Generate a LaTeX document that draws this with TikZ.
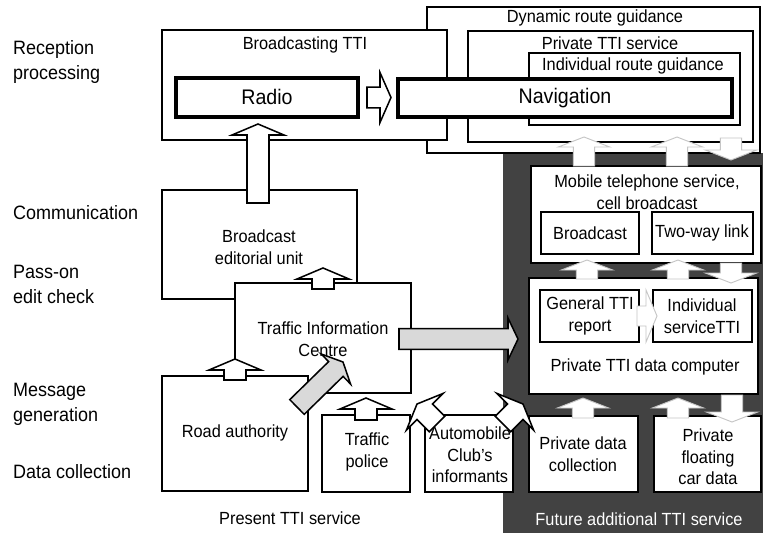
\documentclass[tikz,border=0pt]{standalone}
\usepackage{fontspec}
\setmainfont{Liberation Sans}[FakeStretch=0.93]
\usetikzlibrary{calc,fit}

\tikzset{
  box/.style={draw, fill=white, line width=1.4pt, inner sep=0pt},
  navbox/.style={box, line width=2.8pt},
  lbl/.style={align=center, inner sep=0pt, font=\fontsize{15}{18.5}\selectfont},
  biglbl/.style={inner sep=0pt, font=\fontsize{18}{21}\selectfont},
  side/.style={align=left, anchor=west, inner sep=0pt, font=\fontsize{16.5}{21.3}\selectfont},
  openarrow/.style={draw, fill=white, line width=1.3pt},
  greyarrow/.style={draw, fill=gray!30, line width=1.3pt},
  darkarrow/.style={draw=gray!45, fill=white, line width=0.8pt},
}

% hollow block arrow from #2 to the tip #3
\newcommand{\arrowdims}[3]{\def\shaftw{#1}\def\headw{#2}\def\headl{#3}}
\newcommand{\blockarrow}[3][openarrow]{%
  \path ($(#3)!\headl!(#2)$) coordinate (hb);
  \draw[#1] ($(#2)!\shaftw!90:(#3)$) -- ($(hb)!\shaftw!90:(#3)$)
    -- ($(hb)!\headw!90:(#3)$) -- (#3) -- ($(hb)!\headw!-90:(#3)$)
    -- ($(hb)!\shaftw!-90:(#3)$) -- ($(#2)!\shaftw!-90:(#3)$) -- cycle;}

\begin{document}
\begin{tikzpicture}[x=0.03cm, y=-0.03cm]
\useasboundingbox (0,0) rectangle (763,533);
\fill[black!74] (503,153) rectangle (763,533);

% stages
\node[side] (recep) at (13,62) {Reception\\processing};
\node[side] (comm) at (13,213) {Communication};
\node[side] (pass) at (13,284) {Pass-on\\edit check};
\node[side] (msg) at (13,404) {Message\\generation};
\node[side] (dcoll) at (13,472) {Data collection};

% reception
\node[box, fit={(427,7) (760,153)}] (dyn) {};
\node[box, fit={(468,31) (753,142)}] (priv) {};
\node[box, fit={(529,53) (740,125)}] (indiv) {};
\node[box, fit={(162,30) (447,140)}] (bcast) {};
\node[lbl] (dyntxt) at (595,18) {Dynamic route guidance};
\node[lbl] (privtxt) at (610,43) {Private TTI service};
\node[lbl] (indivtxt) at (633,66) {Individual route guidance};
\node[lbl] (bcasttxt) at (305,45) {Broadcasting TTI};
\node[navbox, fit={(398,79) (732,117)}] (nav) {};
\node[navbox, fit={(176,78) (358,117)}] (radio) {};
\node[biglbl] (navtxt) at (565,98) {Navigation};
\node[biglbl] (radiotxt) at (267,97) {Radio};

% present service
\node[box, fit={(162,190) (357,299)}] (edit) {};
\node[lbl] (edittxt) at (259,247) {Broadcast\\editorial unit};
\node[box, fit={(235,283) (411,393)}] (tic) {};
\node[lbl] (tictxt) at (323,339) {Traffic Information\\Centre};
\node[box, fit={(162,376) (308,491)}] (road) {};
\node[lbl] (roadtxt) at (235,433) {Road authority};
\node[box, fit={(322,415) (410,492)}] (police) {};
\node[lbl] (policetxt) at (367,452) {Traffic\\police};
\node[box, fit={(425,415) (513,492)}] (club) {};
\node[lbl] (clubtxt) at (470,455) {Automobile\\Club's\\informants};
\node[lbl] (present) at (290,518) {Present TTI service};

% future service
\node[box, fit={(531,166) (761,263)}] (mobile) {};
\node[lbl] (mobiletxt) at (647,192) {Mobile telephone service,\\cell broadcast};
\node[box, fit={(541,212) (639,254)}] (bc) {};
\node[lbl] (bctxt) at (590,233) {Broadcast};
\node[box, fit={(652,212) (753,254)}] (twoway) {};
\node[lbl] (twowaytxt) at (702,233) {Two-way link};
\node[box, fit={(529,278) (758,394)}] (comp) {};
\node[lbl] (comptxt) at (645,367) {Private TTI data computer};
\node[box, fit={(540,290) (639,342)}] (gen) {};
\node[lbl] (gentxt) at (590,316) {General TTI\\report};
\node[box, fit={(653,290) (752,342)}] (ind) {};
\node[lbl] (indtxt) at (702,316) {Individual\\serviceTTI};
\node[box, fit={(529,416) (638,492)}] (pcoll) {};
\node[lbl] (pcolltxt) at (583,454) {Private data\\collection};
\node[box, fit={(654,416) (761,492)}] (pfcd) {};
\node[lbl] (pfcdtxt) at (708,457) {Private\\floating\\car data};
\node[lbl, text=white] (future) at (639,519) {Future additional TTI service};

% arrows
\arrowdims{0.33cm}{0.78cm}{0.33cm}
\coordinate (a1) at (258,203); \coordinate (a1t) at (258,124);
\coordinate (a2) at (323,289); \coordinate (a2t) at (323,268);
\coordinate (a3) at (235,380); \coordinate (a3t) at (235,359);
\coordinate (a4) at (366,420); \coordinate (a4t) at (366,398);
\coordinate (a5) at (437,424); \coordinate (a5t) at (417,404);
\coordinate (a6) at (503,424); \coordinate (a6t) at (523,404);
\blockarrow{a1}{a1t}
\blockarrow{a2}{a2t}
\blockarrow{a3}{a3t}
\blockarrow{a4}{a4t}
\blockarrow{a5}{a5t}
\blockarrow{a6}{a6t}

\arrowdims{0.31cm}{0.75cm}{0.33cm}
\coordinate (rn) at (367,97.5); \coordinate (rnt) at (391,97.5);
\blockarrow{rn}{rnt}

\arrowdims{0.31cm}{0.63cm}{0.3cm}
\coordinate (g1) at (297,407); \coordinate (g1t) at (343,362);
\coordinate (g2) at (399,339); \coordinate (g2t) at (518,339);
\blockarrow[greyarrow]{g1}{g1t}
\blockarrow[greyarrow]{g2}{g2t}

\arrowdims{0.32cm}{0.77cm}{0.3cm}
\foreach \x/\ya/\yb in {584/166/137, 677/166/137, 587/279/260, 678/279/260, 583/418/398, 678/418/398}
  {\coordinate (u) at (\x,\ya); \coordinate (ut) at (\x,\yb); \blockarrow[darkarrow]{u}{ut}}
\foreach \x/\ya/\yb in {731/138/160, 731/263/283, 732/395/422}
  {\coordinate (d) at (\x,\ya); \coordinate (dt) at (\x,\yb); \blockarrow[darkarrow]{d}{dt}}
\arrowdims{0.3cm}{0.78cm}{0.33cm}
\coordinate (gi) at (637,316); \coordinate (git) at (657,316);
\blockarrow[darkarrow]{gi}{git}
\end{tikzpicture}
\end{document}
